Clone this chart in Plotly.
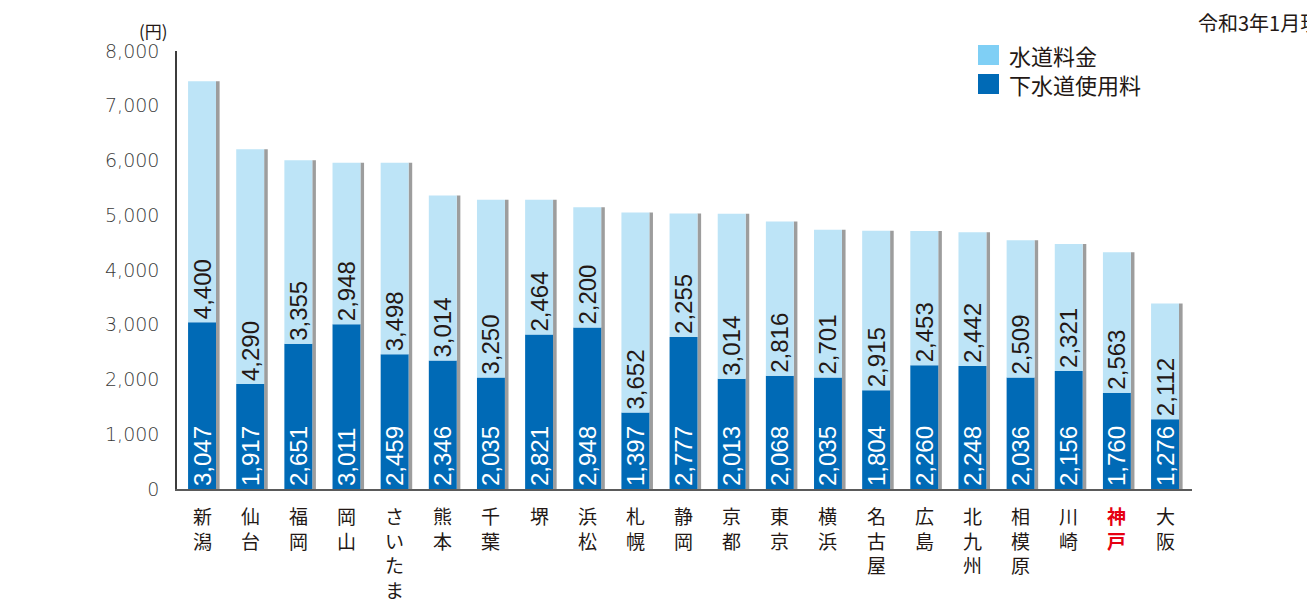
import plotly.graph_objects as go

cities = ["新潟", "仙台", "福岡", "岡山", "さいたま", "熊本", "千葉", "堺", "浜松", "札幌",
          "静岡", "京都", "東京", "横浜", "名古屋", "広島", "北九州", "相模原", "川崎", "神戸", "大阪"]
sewer = [3047, 1917, 2651, 3011, 2459, 2346, 2035, 2821, 2948, 1397,
         2777, 2013, 2068, 2035, 1804, 2260, 2248, 2036, 2156, 1760, 1276]
water = [4400, 4290, 3355, 2948, 3498, 3014, 3250, 2464, 2200, 3652,
         2255, 3014, 2816, 2701, 2915, 2453, 2442, 2509, 2321, 2563, 2112]
y_ticks = [0, 1000, 2000, 3000, 4000, 5000, 6000, 7000, 8000]
grid_vals = [1000, 2000, 3000, 4000, 5000, 6000, 7000]
highlight = "神戸"

LIGHT = "#bde4f7"
LIGHT_LEG = "#7fcff5"
DARK = "#006ab6"
SHADOW = "#9d9d9d"
TXT = "#231815"

# page body has an 8px margin: figure is shrunk so that it ends at the window edge
W, H = 1307, 594
PL, PT, PW, PH = 169, 43, 1015, 438.3   # plot area in figure pixels


def px(sx):   # reference screen x -> paper x
    return (sx - 8 - PL) / PW


def py(sy):   # reference screen y -> paper y
    return 1 - (sy - 8 - PT) / PH


x = list(range(len(cities)))
total = [s + w for s, w in zip(sewer, water)]

fig = go.Figure()
fig.add_trace(go.Bar(
    x=x, y=total, base=0, offset=0.29, width=0.075,
    marker=dict(color=SHADOW, line=dict(width=0)), hoverinfo="skip", showlegend=False))
fig.add_trace(go.Bar(
    x=x, y=sewer, base=0, offset=-0.29, width=0.58, name="下水道使用料",
    marker=dict(color=DARK, line=dict(width=0)),
    text=[f"{v:,}" for v in sewer], textposition="inside", textangle=-90,
    insidetextanchor="start", constraintext="none",
    textfont=dict(family="Liberation Sans", size=24, color="white"),
    hoverinfo="skip", showlegend=False))
fig.add_trace(go.Bar(
    x=x, y=water, base=sewer, offset=-0.29, width=0.58, name="水道料金",
    marker=dict(color=LIGHT, line=dict(width=0)),
    text=[f"{v:,}" for v in water], textposition="inside", textangle=-90,
    insidetextanchor="start", constraintext="none",
    textfont=dict(family="Liberation Sans", size=24, color=TXT),
    hoverinfo="skip", showlegend=False))

for v in grid_vals:
    fig.add_hline(y=v, line=dict(color="#4e9bd4", width=2, dash="2px,7px"), layer="below")

annotations = []
for i, c in enumerate(cities):
    if c == highlight:
        txt = "<br>".join(f"<b>{ch}</b>" for ch in c)
        col = "#e60012"
    else:
        txt = "<br>".join(c)
        col = TXT
    annotations.append(dict(
        x=i, y=0, xref="x", yref="y", text=txt, showarrow=False,
        xanchor="center", yanchor="top", yshift=-11, align="center",
        font=dict(family="Noto Sans CJK JP", size=19, color=col)))

annotations.append(dict(xref="paper", yref="paper", x=px(153), y=py(30), text="(円)",
                        showarrow=False, xanchor="center", yanchor="middle",
                        font=dict(family="Noto Sans CJK JP", size=17, color=TXT)))
annotations.append(dict(xref="paper", yref="paper", x=px(1196), y=py(22), text="令和3年1月現在",
                        showarrow=False, xanchor="left", yanchor="middle",
                        font=dict(family="Noto Sans CJK JP", size=20, color=TXT)))

# legend
leg_items = [("水道料金", LIGHT_LEG, 55), ("下水道使用料", DARK, 84)]
shapes = []
for label, col, yc in leg_items:
    annotations.append(dict(xref="paper", yref="paper", x=px(1007), y=py(yc), text=label,
                            showarrow=False, xanchor="left", yanchor="middle",
                            font=dict(family="Noto Sans CJK JP", size=22, color=TXT)))
    shapes.append(dict(type="rect", xref="paper", yref="paper",
                       x0=px(978), x1=px(999), y0=py(yc + 10), y1=py(yc - 10),
                       fillcolor=col, line=dict(width=0)))

fig.update_layout(
    width=W, height=H,
    margin=dict(l=PL, r=W - PL - PW, t=PT, b=H - PT - PH),
    paper_bgcolor="white", plot_bgcolor="white",
    barmode="overlay",
    showlegend=False,
    annotations=annotations,
    shapes=shapes,
    xaxis=dict(range=[-0.52, 20.56], showticklabels=False, showgrid=False, zeroline=False,
               showline=True, linecolor="#5a5a5a", linewidth=2, fixedrange=True),
    yaxis=dict(range=[0, 8000], tickvals=y_ticks, ticktext=[f"{v:,}" for v in y_ticks],
               showgrid=False, zeroline=False, showline=True, linecolor="#3c3c3c",
               linewidth=1.5, ticks="", ticklabelstandoff=12,
               tickfont=dict(family="DejaVu Sans", size=19, color="#3a3a3a", weight=300)),
)

fig.write_html("out.html")
